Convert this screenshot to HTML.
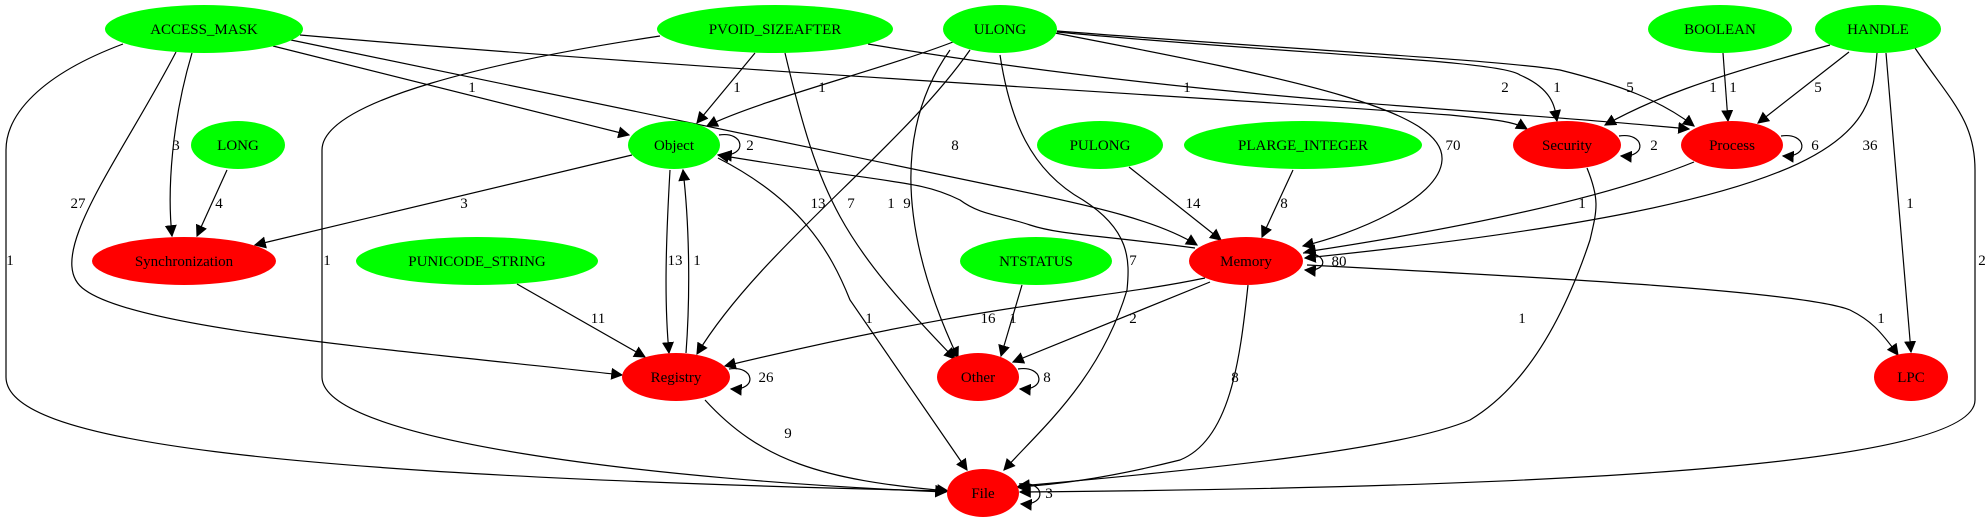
<!DOCTYPE html>
<html><head><meta charset="utf-8"><style>
html,body{margin:0;padding:0;background:#fff;}
svg{display:block;}
text{font-family:"Liberation Serif",serif;font-size:15px;fill:#000;}
</style></head><body>
<svg width="1985" height="523" viewBox="0 0 1985 523" xmlns="http://www.w3.org/2000/svg">
<defs><marker id="a" viewBox="0 0 10 10" refX="9" refY="5" markerWidth="12" markerHeight="12" markerUnits="userSpaceOnUse" orient="auto"><path d="M0,0L10,5L0,10z" fill="#000"/></marker></defs>
<g fill="none" stroke="#000" stroke-width="1.2" marker-end="url(#a)">
<path d="M123,44 C40,75 6,115 6,150 L6,377 C6,440 250,475 946,491"/>
<path d="M176,52 C120,160 40,260 85,290 C140,330 400,350 622,375"/>
<path d="M192,53 C172,120 167,190 172,236"/>
<path d="M227,170 L197,236"/>
<path d="M273,46 L629,135"/>
<path d="M291,40 L1000,187 C1100,207 1160,222 1197,245"/>
<path d="M300,35 C700,70 1100,90 1450,115 C1500,120 1515,122 1527,129"/>
<path d="M660,36 C500,60 322,100 322,150 L322,377 C322,440 650,480 946,492"/>
<path d="M755,53 L697,123"/>
<path d="M785,53 C820,200 840,240 955,359"/>
<path d="M868,44 C1200,100 1500,110 1689,129"/>
<path d="M953,42 C880,70 760,100 707,126"/>
<path d="M970,50 C900,150 760,250 697,354"/>
<path d="M950,50 C900,120 893,220 958,358"/>
<path d="M1000,55 C1010,120 1030,170 1083,200 C1130,230 1130,260 1127,290 C1100,380 1040,430 1004,470"/>
<path d="M1055,33 C1300,80 1445,110 1442,160 C1440,200 1350,235 1303,246"/>
<path d="M1057,32 C1300,55 1500,60 1520,75 C1555,90 1555,110 1557,121"/>
<path d="M1057,31 C1300,50 1500,60 1560,70 C1620,85 1660,100 1694,126"/>
<path d="M632,155 L255,245"/>
<path d="M670,170 C666,240 664,300 669,353"/>
<path d="M686,353 C690,300 690,230 683,170"/>
<path d="M718,158 C800,200 830,250 850,300 L967,470"/>
<path d="M1195,248 C1100,235 1060,235 1030,225 C1000,215 980,215 960,200 C920,180 900,185 718,155"/>
<path d="M517,284 L645,357"/>
<path d="M705,400 C760,460 820,480 948,491"/>
<path d="M1022,285 L1001,356"/>
<path d="M1205,278 C1100,300 1000,300 725,366"/>
<path d="M1210,282 L1013,362"/>
<path d="M1248,285 C1240,360 1230,440 1180,460 C1100,480 1050,485 1017,487"/>
<path d="M1307,265 C1500,275 1800,290 1850,310 C1870,320 1880,330 1898,355"/>
<path d="M1587,168 C1600,200 1597,210 1590,240 C1560,330 1520,390 1470,420 C1400,450 1200,470 1019,486"/>
<path d="M1129,167 L1221,240"/>
<path d="M1293,170 L1262,237"/>
<path d="M1694,162 C1600,200 1450,230 1305,252"/>
<path d="M1723,53 L1728,121"/>
<path d="M1830,45 C1700,80 1650,100 1605,125"/>
<path d="M1849,52 L1758,123"/>
<path d="M1877,53 C1870,130 1870,200 1305,258"/>
<path d="M1886,53 L1911,352"/>
<path d="M1915,48 C1950,100 1975,120 1975,170 L1975,400 C1975,470 1500,488 1020,492"/>
<path d="M719,135 C745,131 748,157 721,155"/>
<path d="M729,369 C755,365 758,391 731,389"/>
<path d="M1018,369 C1044,365 1047,391 1020,389"/>
<path d="M1019,484 C1045,480 1048,506 1021,504"/>
<path d="M1303,253 C1328,252 1330,272 1305,270"/>
<path d="M1619,136 C1645,132 1648,158 1621,156"/>
<path d="M1781,136 C1807,132 1810,158 1783,156"/>
</g>
<g stroke="none">
<ellipse cx="204" cy="29" rx="99" ry="24" fill="#00ff00"/>
<ellipse cx="775" cy="29" rx="118" ry="24" fill="#00ff00"/>
<ellipse cx="1000" cy="29" rx="57" ry="24" fill="#00ff00"/>
<ellipse cx="1720" cy="29" rx="72" ry="24" fill="#00ff00"/>
<ellipse cx="1878" cy="29" rx="63" ry="24" fill="#00ff00"/>
<ellipse cx="238" cy="145" rx="47" ry="24" fill="#00ff00"/>
<ellipse cx="674" cy="145" rx="46" ry="24" fill="#00ff00"/>
<ellipse cx="1100" cy="145" rx="63" ry="24" fill="#00ff00"/>
<ellipse cx="1303" cy="145" rx="119" ry="24" fill="#00ff00"/>
<ellipse cx="1567" cy="145" rx="54" ry="24" fill="#ff0000"/>
<ellipse cx="1732" cy="145" rx="51" ry="24" fill="#ff0000"/>
<ellipse cx="184" cy="261" rx="92" ry="24" fill="#ff0000"/>
<ellipse cx="477" cy="261" rx="121" ry="24" fill="#00ff00"/>
<ellipse cx="1036" cy="261" rx="76" ry="24" fill="#00ff00"/>
<ellipse cx="1246" cy="261" rx="57" ry="24" fill="#ff0000"/>
<ellipse cx="676" cy="377" rx="54" ry="24" fill="#ff0000"/>
<ellipse cx="978" cy="377" rx="41" ry="24" fill="#ff0000"/>
<ellipse cx="1911" cy="377" rx="37" ry="24" fill="#ff0000"/>
<ellipse cx="983" cy="493" rx="36" ry="24" fill="#ff0000"/>
</g>
<g text-anchor="middle">
<text x="204" y="34">ACCESS_MASK</text>
<text x="775" y="34">PVOID_SIZEAFTER</text>
<text x="1000" y="34">ULONG</text>
<text x="1720" y="34">BOOLEAN</text>
<text x="1878" y="34">HANDLE</text>
<text x="238" y="150">LONG</text>
<text x="674" y="150">Object</text>
<text x="1100" y="150">PULONG</text>
<text x="1303" y="150">PLARGE_INTEGER</text>
<text x="1567" y="150">Security</text>
<text x="1732" y="150">Process</text>
<text x="184" y="266">Synchronization</text>
<text x="477" y="266">PUNICODE_STRING</text>
<text x="1036" y="266">NTSTATUS</text>
<text x="1246" y="266">Memory</text>
<text x="676" y="382">Registry</text>
<text x="978" y="382">Other</text>
<text x="1911" y="382">LPC</text>
<text x="983" y="498">File</text>
</g>
<g text-anchor="middle">
<text x="10" y="265">1</text>
<text x="78" y="208">27</text>
<text x="176" y="150">3</text>
<text x="219" y="208">4</text>
<text x="472" y="92">1</text>
<text x="955" y="150">8</text>
<text x="1187" y="92">1</text>
<text x="327" y="265">1</text>
<text x="737" y="92">1</text>
<text x="851" y="208">7</text>
<text x="1505" y="92">2</text>
<text x="822" y="92">1</text>
<text x="818" y="208">13</text>
<text x="907" y="208">9</text>
<text x="1133" y="265">7</text>
<text x="1453" y="150">70</text>
<text x="1557" y="92">1</text>
<text x="1630" y="92">5</text>
<text x="750" y="150">2</text>
<text x="464" y="208">3</text>
<text x="675" y="265">13</text>
<text x="697" y="265">1</text>
<text x="869" y="323">1</text>
<text x="891" y="208">1</text>
<text x="598" y="323">11</text>
<text x="766" y="382">26</text>
<text x="788" y="438">9</text>
<text x="1013" y="323">1</text>
<text x="988" y="323">16</text>
<text x="1133" y="323">2</text>
<text x="1235" y="382">8</text>
<text x="1339" y="266">80</text>
<text x="1881" y="323">1</text>
<text x="1654" y="150">2</text>
<text x="1522" y="323">1</text>
<text x="1193" y="208">14</text>
<text x="1284" y="208">8</text>
<text x="1815" y="150">6</text>
<text x="1582" y="208">1</text>
<text x="1733" y="92">1</text>
<text x="1713" y="92">1</text>
<text x="1818" y="92">5</text>
<text x="1870" y="150">36</text>
<text x="1910" y="208">1</text>
<text x="1982" y="265">2</text>
<text x="1049" y="498">3</text>
<text x="1047" y="382">8</text>
</g>
</svg>
</body></html>
